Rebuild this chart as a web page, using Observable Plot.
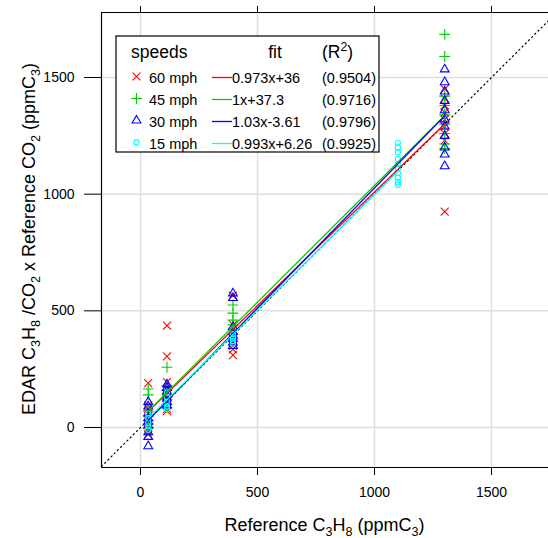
<!DOCTYPE html>
<html>
<head>
<meta charset="utf-8">
<script src="https://cdn.jsdelivr.net/npm/d3@7"></script>
<script src="https://cdn.jsdelivr.net/npm/@observablehq/plot@0.6"></script>
<style>
  html, body { margin: 0; padding: 0; background: white; }
  #chart svg { display: block; }
</style>
</head>
<body>
<div id="chart"></div>
<script>
// ---- data ----
const speeds = ["60 mph", "45 mph", "30 mph", "15 mph"];
const colors = ["#ff0000", "#00cd00", "#0000ff", "#00ffff"];
const fitLabels = ["0.973x+36", "1x+37.3", "1.03x-3.61", "0.993x+6.26"];
const r2Labels = ["(0.9504)", "(0.9716)", "(0.9796)", "(0.9925)"];
const slopes = [0.973, 1, 1.03, 0.993];
const intercepts = [36, 37.3, -3.61, 6.26];
const tickValues = [0, 500, 1000, 1500];

// [reference C3H8, measured values]
const speed60 = [
  [33, [190, 95, 80, 60, 40, 20, 0, -15, -30]],
  [113, [437, 305, 195, 165, 140, 110, 95, 80, 70]],
  [395, [565, 440, 410, 390, 370, 350, 335, 310]],
  [1300, [1450, 1410, 1380, 1350, 1320, 1290, 1260, 1230, 925]]
];
const speed45 = [
  [33, [165, 140, 70, 50, 30, 15, -5]],
  [113, [258, 180, 160, 140, 120, 100, 85]],
  [395, [525, 490, 460, 440, 420, 400, 380]],
  [1300, [1685, 1590, 1420, 1380, 1340, 1300, 1260, 1215, 1195]]
];
const speed30 = [
  [33, [110, 90, 60, 40, 25, 10, -20, -40, -80]],
  [113, [185, 170, 155, 140, 125, 110, 95]],
  [395, [575, 555, 430, 410, 395, 380, 365, 350]],
  [1300, [1535, 1480, 1440, 1400, 1360, 1320, 1290, 1250, 1200, 1170, 1120]]
];
const speed15 = [
  [33, [60, 40, 20, 5, -10]],
  [113, [150, 130, 110, 90, 80]],
  [395, [420, 400, 385, 370, 360]],
  [1100, [1220, 1200, 1180, 1150, 1130, 1110, 1090, 1070, 1050, 1040]]
];

const groups = [speed60, speed45, speed30, speed15];
const symbols = ["times", "plus", "triangle2", "circle"];
const symbolR = [3.7, 3.6, 4.2, 2.6];

// ---- build tables ----
const points = groups.map((g, i) =>
  g.flatMap(([x, ys]) => ys.map(y => ({x, y, s: speeds[i]}))));
const fits = groups.map((g, i) => {
  const xs = g.map(d => d[0]);
  return [d3.min(xs), d3.max(xs)].map(x => ({x, y: slopes[i] * x + intercepts[i]}));
});
const xDomain = [-166.7, 1743.6];
const yDomain = [-171.4, 1778.6];
const diag = [{v: xDomain[0]}, {v: xDomain[1]}];

const plot = Plot.plot({
  width: 548,
  height: 538,
  marginLeft: 101,
  marginRight: 0,
  marginTop: 12,
  marginBottom: 71,
  style: {fontFamily: "'Liberation Sans', Arial, sans-serif", fontSize: "14px", background: "white", color: "black"},
  x: {domain: xDomain},
  y: {domain: yDomain},
  marks: [
    Plot.gridX(tickValues, {stroke: "#dedede", strokeOpacity: 1, strokeWidth: 1.5}),
    Plot.gridY(tickValues, {stroke: "#dedede", strokeOpacity: 1, strokeWidth: 1.5}),
    Plot.line(diag, {x: "v", y: "v", stroke: "black", strokeWidth: 1.2, strokeDasharray: "1.2,3.3", clip: true}),
    ...groups.map((g, i) => Plot.dot(points[i], {
      x: "x", y: "y", symbol: () => symbols[i], r: symbolR[i],
      stroke: colors[i], strokeWidth: 1.1, fill: "none"
    })),
    ...fits.map((f, i) => Plot.line(f, {x: "x", y: "y", stroke: colors[i], strokeWidth: 1.3})),
    Plot.axisX(tickValues, {anchor: "bottom", tickSize: 8, tickPadding: 12, tickFormat: d => String(d), label: null}),
    Plot.axisX(tickValues, {anchor: "top", tickSize: 7, tickFormat: () => "", label: null}),
    Plot.axisY(tickValues, {anchor: "left", tickSize: 17, tickPadding: 10, tickFormat: d => String(d), label: null}),
    Plot.ruleX([xDomain[0]], {stroke: "black", strokeWidth: 1.2}),
    Plot.ruleY([yDomain[0], yDomain[1]], {stroke: "black", strokeWidth: 1.2})
  ]
});
document.getElementById("chart").appendChild(plot);

// ---- axis titles and legend ----
const svg = d3.select(plot);
const font = "'Liberation Sans', Arial, sans-serif";

function richText(parent, parts, size) {
  let shift = 0;
  parts.forEach(([t, kind]) => {
    const ts = parent.append("tspan").text(t);
    let target = 0;
    if (kind === "sub") { ts.attr("font-size", size * 0.7); target = size * 0.28; }
    else if (kind === "sup") { ts.attr("font-size", size * 0.7); target = -size * 0.42; }
    ts.attr("dy", target - shift);
    shift = target;
  });
}

const xt = svg.append("text")
  .attr("x", 324.5).attr("y", 531)
  .attr("text-anchor", "middle").attr("font-family", font).attr("font-size", 18).attr("fill", "black");
richText(xt, [["Reference C"], ["3", "sub"], ["H"], ["8", "sub"], [" (ppmC"], ["3", "sub"], [")"]], 18);

const yt = svg.append("text")
  .attr("transform", "translate(35,239) rotate(-90)")
  .attr("text-anchor", "middle").attr("font-family", font).attr("font-size", 18).attr("fill", "black");
richText(yt, [["EDAR C"], ["3", "sub"], ["H"], ["8", "sub"], [" /CO"], ["2", "sub"], [" x Reference CO"], ["2", "sub"], [" (ppmC"], ["3", "sub"], [")"]], 18);

// legend
const lg = svg.append("g").attr("font-family", font).attr("font-size", 14.5)
  .attr("fill", "black").attr("text-anchor", "start");
lg.append("rect").attr("x", 116).attr("y", 36).attr("width", 263).attr("height", 116)
  .attr("fill", "white").attr("stroke", "black").attr("stroke-width", 1.2);
const hs = 17.5;
lg.append("text").attr("x", 131).attr("y", 58).attr("font-size", hs).text("speeds");
lg.append("text").attr("x", 275).attr("y", 58).attr("font-size", hs).attr("text-anchor", "middle").text("fit");
const r2h = lg.append("text").attr("x", 322).attr("y", 58).attr("font-size", hs);
richText(r2h, [["(R"], ["2", "sup"], [")"]], hs);

const d3Sym = {times: d3.symbolTimes, plus: d3.symbolPlus, triangle2: d3.symbolTriangle2, circle: d3.symbolCircle};
speeds.forEach((s, i) => {
  const cy = 77.5 + i * 22;
  lg.append("path")
    .attr("transform", `translate(136.5,${cy - 1})`)
    .attr("d", d3.symbol(d3Sym[symbols[i]], Math.PI * symbolR[i] * symbolR[i])())
    .attr("fill", "none").attr("stroke", colors[i]).attr("stroke-width", 1.1);
  lg.append("text").attr("x", 149).attr("y", cy + 5).text(s);
  lg.append("line").attr("x1", 212).attr("x2", 232).attr("y1", cy).attr("y2", cy)
    .attr("stroke", colors[i]).attr("stroke-width", 1.3);
  lg.append("text").attr("x", 232).attr("y", cy + 5).text(fitLabels[i]);
  lg.append("text").attr("x", 322).attr("y", cy + 5).text(r2Labels[i]);
});
</script>
</body>
</html>
